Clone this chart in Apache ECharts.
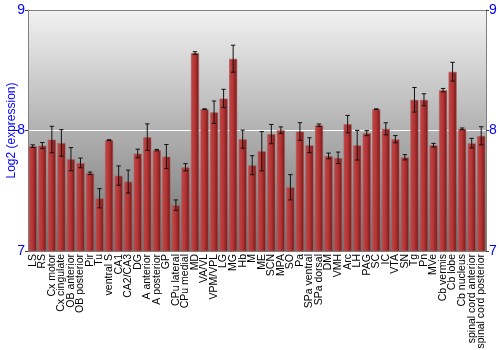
<!DOCTYPE html>
<html>
<head>
<meta charset="utf-8">
<script src="https://cdn.jsdelivr.net/npm/echarts@6/dist/echarts.min.js"></script>
<style>html,body{margin:0;padding:0;background:#fff}#c{width:500px;height:350px}</style>
</head>
<body>
<div id="c"></div>
<script>
const categories = ["LS","RS","Cx motor","Cx cingulate","OB anterior","OB posterior","Pir","Tu","ventral S","CA1","CA2/CA3","DG","A anterior","A posterior","GP","CPu lateral","CPu medial","MD","VA/VL","VPM/VPL","LG","MG","Hb","M","ME","SCN","MPA","SO","Pa","SPa ventral","SPa dorsal","DM","VMH","Arc","LH","PAG","SC","IC","VTA","SN","Tg","Pn","MVe","Cb vermis","Cb lobe","Cb nucleus","spinal cord anterior","spinal cord posterior"];
const values = [7.87,7.875,7.925,7.897,7.762,7.731,7.645,7.438,7.92,7.626,7.576,7.809,7.945,7.837,7.784,7.38,7.695,8.643,8.177,8.152,8.266,8.596,7.928,7.712,7.828,7.97,8.003,7.529,7.992,7.878,8.044,7.789,7.773,8.053,7.878,7.978,8.177,8.014,7.928,7.778,8.255,8.255,7.878,8.335,8.488,8.014,7.895,7.956];
const errors = [0.011,0.025,0.11,0.11,0.096,0.04,0.01,0.08,0.003,0.08,0.095,0.036,0.11,0.006,0.1,0.044,0.03,0.011,0.003,0.093,0.076,0.112,0.075,0.079,0.163,0.08,0.027,0.105,0.073,0.062,0.01,0.024,0.048,0.072,0.123,0.021,0.003,0.05,0.03,0.022,0.102,0.05,0.015,0.014,0.078,0.007,0.04,0.075];
const yTicks = [7, 8, 9];

const chart = echarts.init(document.getElementById('c'), null, {renderer: 'canvas'});
const errData = values.map((v, i) => [i, v - errors[i], v + errors[i]]);
const font = '"Liberation Sans", Arial, sans-serif';
chart.setOption({
  animation: false,
  grid: {
    left: 28, right: 14, top: 10, bottom: 99,
    outerBoundsMode: 'none', containLabel: false,
    show: true, borderWidth: 0,
    backgroundColor: new echarts.graphic.LinearGradient(0, 0, 0, 1, [
      {offset: 0, color: '#f2f2f2'},
      {offset: 1, color: '#707070'}
    ])
  },
  xAxis: [{
    type: 'category', data: categories,
    axisLine: {show: true, lineStyle: {color: '#808080'}},
    axisTick: {show: false},
    axisLabel: {rotate: 90, interval: 0, margin: 3, color: '#000', fontSize: 10.5, fontFamily: font}
  }, {
    type: 'category', data: categories, position: 'top',
    axisLine: {show: true, lineStyle: {color: '#808080'}},
    axisTick: {show: false}, axisLabel: {show: false}
  }],
  yAxis: [{
    type: 'value', min: 7, max: 9, interval: 1,
    name: 'Log2 (expression)', nameLocation: 'middle', nameGap: 10, nameMoveOverlap: false,
    nameTextStyle: {color: '#0000ff', fontSize: 12, fontFamily: font},
    axisLine: {show: true, lineStyle: {color: '#808080'}},
    axisTick: {show: true, length: 3, lineStyle: {color: '#404040'}},
    axisLabel: {color: '#0000ff', fontSize: 14, margin: 3, fontFamily: font,
      formatter: v => yTicks.includes(v) ? String(v) : ''},
    splitLine: {show: true, lineStyle: {color: ['#808080', '#ffffff', '#808080'], width: 1}}
  }, {
    type: 'value', min: 7, max: 9, interval: 1, position: 'right',
    axisLine: {show: true, lineStyle: {color: '#808080'}},
    axisTick: {show: true, length: 3, lineStyle: {color: '#404040'}},
    axisLabel: {color: '#0000ff', fontSize: 14, margin: 3, fontFamily: font,
      formatter: v => yTicks.includes(v) ? String(v) : ''},
    splitLine: {show: false}
  }],
  series: [{
    type: 'bar', data: values, barCategoryGap: '12%',
    itemStyle: {
      color: new echarts.graphic.LinearGradient(0, 0, 1, 0, [
        {offset: 0, color: '#c54646'},
        {offset: 0.5, color: '#b23434'},
        {offset: 1, color: '#701515'}
      ]),
      borderColor: 'rgba(170,90,90,0.6)', borderWidth: 1
    }
  }, {
    type: 'custom', data: errData, z: 5,
    renderItem: (params, api) => {
      const x = api.value(0);
      const lo = api.coord([x, api.value(1)]);
      const hi = api.coord([x, api.value(2)]);
      const hw = 2.2;
      const style = {stroke: '#111', lineWidth: 1};
      return {type: 'group', children: [
        {type: 'line', shape: {x1: lo[0], y1: lo[1], x2: hi[0], y2: hi[1]}, style},
        {type: 'line', shape: {x1: lo[0]-hw, y1: lo[1], x2: lo[0]+hw, y2: lo[1]}, style},
        {type: 'line', shape: {x1: hi[0]-hw, y1: hi[1], x2: hi[0]+hw, y2: hi[1]}, style}
      ]};
    }
  }]
});
</script>
</body>
</html>
